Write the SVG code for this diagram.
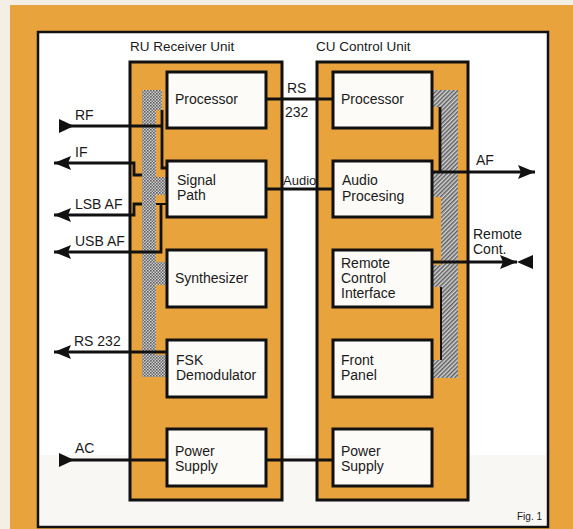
<svg xmlns="http://www.w3.org/2000/svg" width="573" height="529" viewBox="0 0 573 529">
<defs>
<style>
.t{font-family:"Liberation Sans",Arial,Helvetica,sans-serif;font-size:14px;fill:#1a1a1a}
.unit{fill:#E8A33C;stroke:#111;stroke-width:3}
.block{fill:#fcfbf7;stroke:#111;stroke-width:3}
.wire{fill:none;stroke:#111;stroke-width:2.8}
.thin{fill:none;stroke:#111;stroke-width:2}
.dots{fill:url(#dots);stroke:none}
.hatch{fill:url(#hatch);stroke:none}
</style>
<pattern id="dots" width="3" height="3" patternUnits="userSpaceOnUse">
<rect width="3" height="3" fill="#d0d0d0"/>
<rect width="1.6" height="1.6" fill="#5e5e5e"/>
<rect x="1.5" y="1.5" width="1.5" height="1.5" fill="#6e6e6e"/>
</pattern>
<pattern id="hatch" width="3" height="3" patternUnits="userSpaceOnUse" patternTransform="rotate(45)">
<rect width="3" height="3" fill="#d4d4d4"/>
<rect width="1.5" height="3" fill="#5e5e5e"/>
</pattern>
<marker id="out" markerUnits="userSpaceOnUse" markerWidth="18" markerHeight="14" refX="17" refY="7" orient="auto">
<path d="M0,0 L17,7 L0,14 L3,7 z" fill="#111"/>
</marker>
<marker id="in" markerUnits="userSpaceOnUse" markerWidth="16" markerHeight="14" refX="0" refY="7" orient="auto">
<path d="M0,0 L15,7 L0,14 z" fill="#111"/>
</marker>
</defs>

<rect x="0" y="0" width="573" height="529" fill="#f3efe6"/>
<rect x="10" y="5" width="563" height="524" fill="#E8A33C"/>
<rect x="38" y="32" width="510" height="495" fill="#ffffff" stroke="#111" stroke-width="2.5"/>
<rect x="40" y="455" width="506" height="70" fill="#f8f7f4"/>

<g id="unit-ru">
<rect class="unit" x="130" y="62" width="152" height="438"/>
<text class="t" x="130" y="51" style="font-size:13.5px">RU Receiver Unit</text>
</g>
<g id="unit-cu">
<rect class="unit" x="317" y="62" width="151" height="438"/>
<text class="t" x="316" y="51" style="font-size:13.5px">CU Control Unit</text>
</g>

<g id="bus-ru">
<path class="dots" d="M142,90 H162 V110 H156 V177 H167 V195 H156 V262 H167 V285 H156 V355 H167 V377 H142 Z"/>
</g>
<g id="bus-cu">
<path class="hatch" d="M432,90 H458 V378 H432 V360 H441 V287 H432 V265 H441 V197 H432 V173 H441 V107 H432 Z"/>
</g>

<g id="connectors">
<path class="wire" d="M266,99 H333"/>
<path class="wire" d="M266,189 H333"/>
<path class="wire" d="M266,460 H333"/>
<path class="wire" d="M59,126 H162" marker-start="url(#in)"/>
<path class="wire" d="M162,110 V168 H167"/>
<path class="wire" d="M142,175 H134 V163 H54" marker-end="url(#out)"/>
<path class="wire" d="M142,204 H134 V215 H54" marker-end="url(#out)"/>
<path class="wire" d="M161,204 V252 H54" marker-end="url(#out)"/>
<path class="thin" d="M156,204 H167"/>
<path class="wire" d="M167,352 H54" marker-end="url(#out)"/>
<path class="wire" d="M59,460 H167" marker-start="url(#in)"/>
<path class="wire" d="M440,107 V172"/>
<path class="thin" d="M441,287 V360"/>
<path class="wire" d="M432,172 H535" marker-end="url(#out)"/>
<path class="wire" d="M431,262 H517" marker-end="url(#out)"/>
<polygon points="517,262 533,255 533,269" fill="#111"/>
<text class="t" x="287" y="93">RS</text>
<text class="t" x="285" y="117">232</text>
<text class="t" x="283" y="185" style="font-size:13px">Audio</text>
<text class="t" x="75" y="120">RF</text>
<text class="t" x="75" y="157">IF</text>
<text class="t" x="75" y="209">LSB AF</text>
<text class="t" x="75" y="246">USB AF</text>
<text class="t" x="74" y="346">RS 232</text>
<text class="t" x="75" y="453">AC</text>
<text class="t" x="476" y="165">AF</text>
<text class="t" x="473" y="239">Remote</text>
<text class="t" x="473" y="254">Cont.</text>
</g>

<g id="ru-processor">
<rect class="block" x="167" y="72" width="99" height="56"/>
<text class="t" x="175" y="104">Processor</text>
</g>
<g id="ru-signal-path">
<rect class="block" x="167" y="161" width="99" height="56"/>
<text class="t" x="177" y="185">Signal</text>
<text class="t" x="177" y="200">Path</text>
</g>
<g id="ru-synthesizer">
<rect class="block" x="167" y="250" width="99" height="57"/>
<text class="t" x="175" y="283">Synthesizer</text>
</g>
<g id="ru-fsk">
<rect class="block" x="167" y="340" width="99" height="57"/>
<text class="t" x="176" y="365">FSK</text>
<text class="t" x="176" y="380">Demodulator</text>
</g>
<g id="ru-power">
<rect class="block" x="167" y="429" width="99" height="57"/>
<text class="t" x="175" y="456">Power</text>
<text class="t" x="175" y="471">Supply</text>
</g>

<g id="cu-processor">
<rect class="block" x="333" y="72" width="99" height="56"/>
<text class="t" x="341" y="104">Processor</text>
</g>
<g id="cu-audio">
<rect class="block" x="333" y="161" width="99" height="56"/>
<text class="t" x="342" y="185">Audio</text>
<text class="t" x="342" y="201">Procesing</text>
</g>
<g id="cu-remote">
<rect class="block" x="333" y="250" width="99" height="57"/>
<text class="t" x="341" y="268">Remote</text>
<text class="t" x="341" y="283">Control</text>
<text class="t" x="341" y="298">Interface</text>
</g>
<g id="cu-front">
<rect class="block" x="333" y="340" width="99" height="57"/>
<text class="t" x="341" y="365">Front</text>
<text class="t" x="341" y="380">Panel</text>
</g>
<g id="cu-power">
<rect class="block" x="333" y="429" width="99" height="57"/>
<text class="t" x="341" y="456">Power</text>
<text class="t" x="341" y="471">Supply</text>
</g>

<text class="t" x="517" y="520" style="font-size:10px">Fig. 1</text>
</svg>
